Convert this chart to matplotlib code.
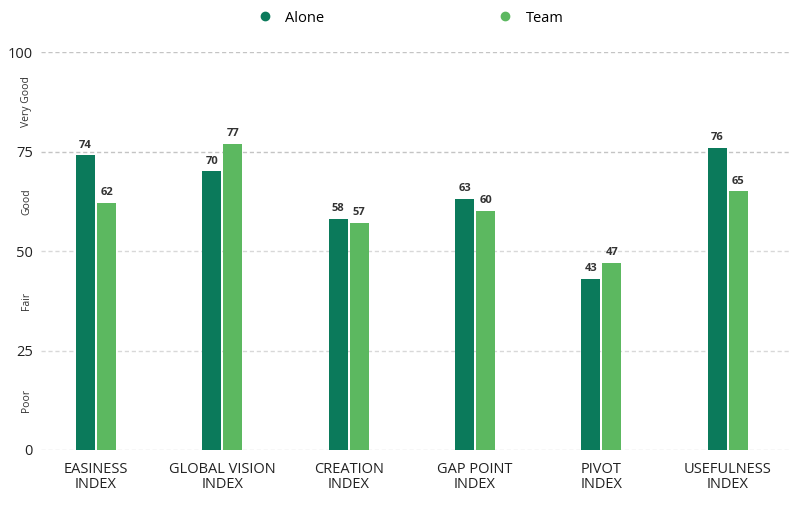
import matplotlib
matplotlib.use("Agg")
import matplotlib.pyplot as plt
from matplotlib.lines import Line2D
import numpy as np

plt.rcParams['font.family'] = ['Open Sans', 'DejaVu Sans']

categories = ["EASINESS\nINDEX", "GLOBAL VISION\nINDEX", "CREATION\nINDEX",
              "GAP POINT\nINDEX", "PIVOT\nINDEX", "USEFULNESS\nINDEX"]
alone = [74, 70, 58, 63, 43, 76]
team = [62, 77, 57, 60, 47, 65]
series_names = ["Alone", "Team"]
y_ticks = [0, 25, 50, 75, 100]
ratings = ["Poor", "Fair", "Good", "Very Good"]

c_alone = "#0b7a5b"
c_team = "#5cb860"

fig = plt.figure(figsize=(7.92, 5.17), dpi=100)
ax = fig.add_axes([0.052, 0.1296, 0.945, 0.7698])

x = np.arange(len(categories))
w = 0.15
gap = 0.008
b1 = ax.bar(x - w / 2 - gap, alone, width=w, color=c_alone, zorder=3)
b2 = ax.bar(x + w / 2 + gap, team, width=w, color=c_team, zorder=3)

for bars, vals in ((b1, alone), (b2, team)):
    for r, v in zip(bars, vals):
        ax.text(r.get_x() + r.get_width() / 2, v + 1.2, f"{v}",
                ha="center", va="bottom", fontsize=8, fontweight="bold",
                color="#333333", zorder=4)

ax.set_xlim(-0.434, 5.49)
ax.set_ylim(0, 100)
ax.set_yticks(y_ticks)
ax.set_yticklabels([str(t) for t in y_ticks], fontsize=10.5, color="#222222")
ax.set_xticks(x)
ax.set_xticklabels(categories, fontsize=10.5, color="#222222", linespacing=0.95)
ax.tick_params(axis="both", length=0)
ax.tick_params(axis="y", pad=6)
ax.tick_params(axis="x", pad=9)

for t in y_ticks:
    shade = "#c4c4c4" if t >= 75 else "#d8d8d8"
    ax.axhline(t, color=shade, lw=1.0, ls=(0, (3, 2)), zorder=1)

for s in ax.spines.values():
    s.set_visible(False)

# rating bands written between the gridlines, left of the axis
for i, lab in enumerate(ratings):
    yc = 12.5 + 25 * i
    ax.text(-0.019, yc, lab, rotation=90, ha="center", va="center",
            fontsize=7.5, color="#333333",
            transform=ax.get_yaxis_transform())

handles = [Line2D([], [], marker="o", ls="", color=c_alone, markersize=6),
           Line2D([], [], marker="o", ls="", color=c_team, markersize=6)]
fig.legend(handles, series_names, loc="center", bbox_to_anchor=(0.514, 0.965),
           ncol=2, frameon=False, fontsize=10.5, columnspacing=11.4,
           handletextpad=0.4)

fig.savefig("out.png", dpi=100, facecolor="white")
